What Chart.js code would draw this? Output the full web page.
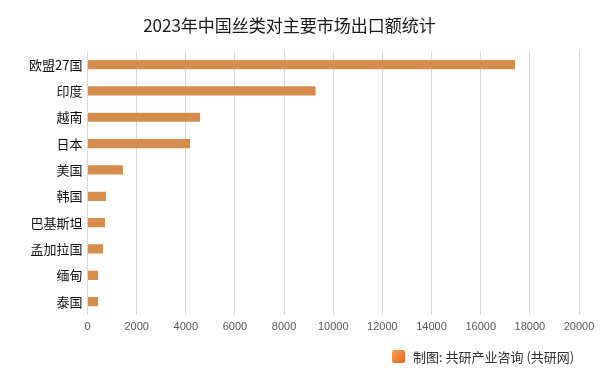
<!DOCTYPE html>
<html>
<head>
<meta charset="utf-8">
<script src="https://cdn.jsdelivr.net/npm/chart.js@4"></script>
<style>
  html, body { margin: 0; padding: 0; background: #fff; }
  #wrap { position: relative; width: 602px; height: 375px; }
  #footer {
    position: absolute; left: 392px; top: 347px;
    font-family: "Noto Sans CJK SC", sans-serif; font-size: 13px; color: #333;
    display: flex; align-items: center;
  }
  #logo {
    width: 13px; height: 13px; margin-right: 8px; border-radius: 2px;
    background: linear-gradient(135deg, #f6a24a, #e8622c);
  }
</style>
</head>
<body>
<div id="wrap">
  <canvas id="myChart" width="602" height="375"></canvas>
  <div id="footer"><span id="logo"></span>制图: 共研产业咨询 (共研网)</div>
</div>
<script>
// 데이터
const categories = ["欧盟27国", "印度", "越南", "日本", "美国", "韩国", "巴基斯坦", "孟加拉国", "缅甸", "泰国"];
const exportValues = [17400, 9280, 4580, 4170, 1440, 750, 710, 630, 430, 430];
const xTicks = [0, 2000, 4000, 6000, 8000, 10000, 12000, 14000, 16000, 18000, 20000];

const ctx = document.getElementById('myChart').getContext('2d');

const config = {
    type: 'bar',
    data: {
        labels: categories,
        datasets: [{
            label: '出口额',
            data: exportValues,
            backgroundColor: 'rgb(213, 141, 78)',
            barPercentage: 0.7,
            categoryPercentage: 0.5
        }]
    },
    options: {
        indexAxis: 'y',
        responsive: false,
        animation: false,
        layout: {
            padding: { left: 0, right: 23, top: 0, bottom: 35 }
        },
        scales: {
            x: {
                min: 0,
                max: 20000,
                afterBuildTicks: (axis) => {
                    axis.ticks = xTicks.map(v => ({ value: v }));
                },
                grid: { color: '#d9d9d9', drawTicks: false },
                border: { display: false },
                ticks: {
                    color: '#595959',
                    font: { family: 'Liberation Sans', size: 11 },
                    padding: 6,
                    maxRotation: 0,
                    callback: (v) => String(v)
                }
            },
            y: {
                grid: { display: false, drawTicks: false },
                border: { display: false },
                afterFit: (axis) => { axis.width = 87.5; },
                ticks: {
                    color: '#111',
                    font: { family: 'Noto Sans CJK SC', size: 13 },
                    padding: 5
                }
            }
        },
        plugins: {
            legend: { display: false },
            tooltip: { enabled: false },
            title: {
                display: true,
                text: '2023年中国丝类对主要市场出口额统计',
                color: '#1a1a1a',
                font: { family: 'Noto Sans CJK SC', size: 17, weight: 'normal' },
                padding: { top: 15, bottom: 16 }
            }
        }
    }
};

const myChart = new Chart(ctx, config);
</script>
</body>
</html>
